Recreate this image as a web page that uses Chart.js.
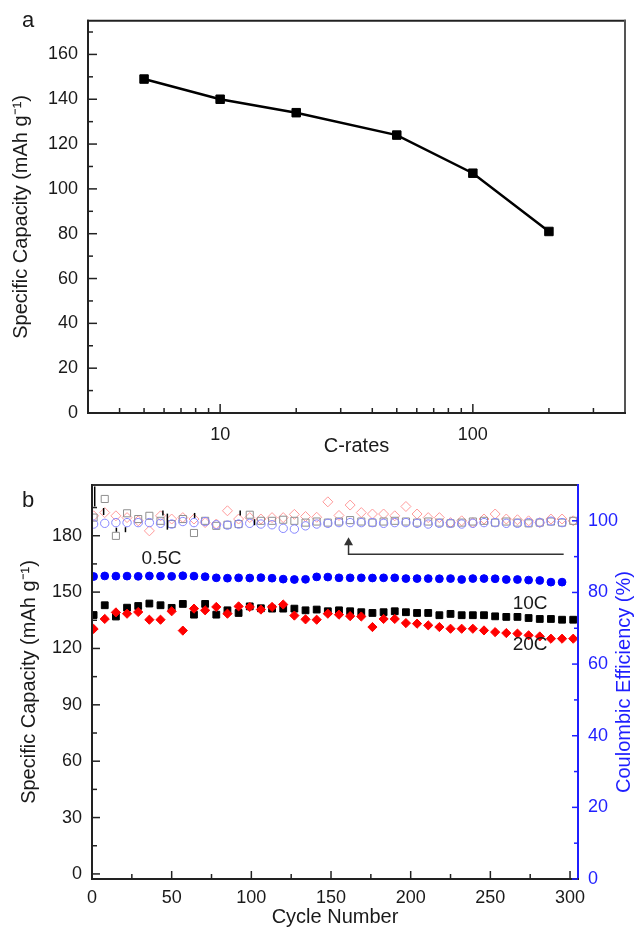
<!DOCTYPE html>
<html>
<head>
<meta charset="utf-8">
<script src="https://cdn.jsdelivr.net/npm/chart.js@4.4.1/dist/chart.umd.min.js"></script>
<style>
  html, body { margin: 0; padding: 0; background: #fff; }
  .panel { position: absolute; left: 0; width: 635px; }
  #panelA { top: 0; height: 460px; }
  #panelB { top: 460px; height: 467px; }
</style>
</head>
<body>
<div class="panel" id="panelA"><canvas id="rateChart"></canvas></div>
<div class="panel" id="panelB"><canvas id="cycleChart"></canvas></div>
<script>
// (a) rate capability
const cRates = [5, 10, 20, 50, 100, 200];
const rateCapacity = [149, 140, 134, 124, 107, 81];
const rateYTicks = [0, 20, 40, 60, 80, 100, 120, 140, 160];
const rateYMinor = [10, 30, 50, 70, 90, 110, 130, 150, 170];
const rateXTicks = [10, 100];
const rateXMinor = [4, 5, 6, 7, 8, 9, 20, 30, 40, 50, 60, 70, 80, 90, 200, 300];

// (b) cycling at 0.5C / 10C / 20C
const cycles = [1, 8, 15, 22, 29, 36, 43, 50, 57, 64, 71, 78, 85, 92, 99, 106, 113, 120, 127, 134, 141, 148,
  155, 162, 169, 176, 183, 190, 197, 204, 211, 218, 225, 232, 239, 246, 253, 260, 267, 274, 281, 288, 295, 302];
const cap05C = [158.3, 158.6, 158.5, 158.5, 158.4, 158.6, 158.5, 158.4, 158.7, 158.5, 158.2, 157.6, 157.4, 157.6,
  157.5, 157.7, 157.4, 156.9, 156.7, 156.8, 158.1, 158.0, 157.6, 157.6, 157.6, 157.5, 157.6, 157.6, 157.2, 157.2,
  157.2, 157.1, 157.2, 156.7, 157.2, 157.2, 157.1, 156.7, 156.7, 156.4, 156.2, 155.3, 155.3, null];
const cap10C = [137.8, 143, 137, 141.7, 142.6, 143.9, 143, 141.6, 143.7, 138, 143.7, 138, 140.3, 138.9, 142.4,
  141.4, 141.2, 141.2, 141.2, 140.3, 140.7, 139.8, 140.3, 139.8, 139.3, 138.9, 139.3, 139.8, 139.3, 138.9, 138.9,
  137.7, 138.4, 137.7, 137.7, 137.7, 137.1, 136.8, 136.8, 136.2, 135.7, 135.7, 135.3, 135.3];
const cap20C = [130.4, 135.7, 139.2, 138.5, 139.4, 135.3, 135.3, 139.8, 129.5, 141.2, 140.3, 142.1, 138.5, 142.4,
  142.1, 140.7, 142.1, 143.4, 137.5, 135.5, 135.3, 138.5, 138, 137.2, 137, 131.4, 135.7, 135.7, 133.5, 133.2,
  132.3, 131.4, 130.5, 130.5, 130.5, 129.6, 128.7, 128.2, 127.9, 127, 126.4, 125.2, 125.2, 125.2];
const ce05C = [99.1, 99.3, 99.5, 99.5, 99.5, 99.5, 99.3, 99.1, 99.8, 99.5, 99.8, 98.9, 98.8, 99.1, 99.3, 99.1,
  98.9, 97.9, 97.7, 98.6, 99.1, 99.3, 99.5, 99.5, 99.5, 99.5, 99.3, 99.5, 99.5, 99.3, 99.1, 99.3, 99.3, 99.1,
  99.3, 99.5, 99.5, 99.3, 99.3, 99.5, 99.5, 99.9, 99.5, null];
const ce10C = [100.9, 106.1, 95.8, 102.1, 100.5, 101.4, 100, 99.1, 100.5, 96.6, 100, 98.6, 98.9, 99.1, 101.7,
  100, 100, 100.3, 100, 99.5, 99.8, 99.5, 99.8, 100.2, 99.8, 99.5, 99.8, 100, 99.8, 99.5, 99.8, 99.5, 99.3,
  99.5, 99.8, 100, 99.5, 99.8, 99.5, 99.3, 99.5, 99.8, 99.5, 100];
const ce20C = [101.4, 102.3, 101.4, 100.9, 100, 97.2, 101.4, 100.5, 100.9, 100.5, 99.5, 99.1, 102.8, 100.5,
  100.9, 100.5, 100.9, 100.9, 101.8, 101.2, 101, 105.3, 101.5, 104.4, 102.3, 101.9, 101.9, 101.4, 104, 101.9,
  100.9, 100.9, 99.5, 100, 99.5, 100.5, 101.9, 100.5, 100.3, 100, 99.5, 100.5, 100.5, 100];
// stray black dashes near the top of panel b
const dashCycles = [1.7, 7.3, 15.3, 21, 44.5, 47.3, 64.4, 93, 102];
const dashValues = [200.9, 192.9, 183.2, 183.2, 192.1, 187.5, 190.8, 192.1, 187.2];

const cycleXTicks = [0, 50, 100, 150, 200, 250, 300];
const cycleXMinor = [25, 75, 125, 175, 225, 275];
const capYTicks = [0, 30, 60, 90, 120, 150, 180];
const capYMinor = [15, 45, 75, 105, 135, 165, 195];
const ceYTicks = [0, 20, 40, 60, 80, 100];
const ceYMinor = [10, 30, 50, 70, 90];

const rateNames = ['0.5C', '10C', '20C'];
const rateNameCycle = [31, 264, 264];
const rateNameCap = [167.7, 143.9, 122];
const arrowPath = [[296, 90.7], [161, 90.7], [161, 95.4]];

const FONT = "'Liberation Sans', Arial, sans-serif";
const INK = '#1a1a1a';
const BLUE = '#1f1fff';

const pts = (xs, ys) => xs.map((x, i) => ({ x, y: ys[i] }));
const setTicks = vals => s => { s.ticks = vals.map(v => ({ value: v })); };

// frame + inward tick marks
const frameTicks = {
  id: 'frameTicks',
  afterDraw(chart, args, opts) {
    const { ctx, chartArea: a } = chart;
    ctx.save();
    for (const side of ['top', 'right', 'bottom', 'left']) {
      const s = opts.frame[side];
      ctx.strokeStyle = s.color;
      ctx.lineWidth = s.width;
      ctx.beginPath();
      if (side === 'top') { ctx.moveTo(a.left - 1, a.top); ctx.lineTo(a.right + 1, a.top); }
      if (side === 'bottom') { ctx.moveTo(a.left - 1, a.bottom); ctx.lineTo(a.right + 1, a.bottom); }
      if (side === 'left') { ctx.moveTo(a.left, a.top - 1); ctx.lineTo(a.left, a.bottom + 1); }
      if (side === 'right') { ctx.moveTo(a.right, a.top - 1); ctx.lineTo(a.right, a.bottom + 1); }
      ctx.stroke();
    }
    for (const t of opts.ticks) {
      const scale = chart.scales[t.scale];
      ctx.strokeStyle = t.color;
      ctx.lineWidth = 1.5;
      const mark = (v, len) => {
        const p = scale.getPixelForValue(v);
        ctx.beginPath();
        if (t.side === 'left') { ctx.moveTo(a.left, p); ctx.lineTo(a.left + len, p); }
        else if (t.side === 'right') { ctx.moveTo(a.right, p); ctx.lineTo(a.right - len, p); }
        else { ctx.moveTo(p, a.bottom); ctx.lineTo(p, a.bottom - len); }
        ctx.stroke();
      };
      t.major.forEach(v => mark(v, t.majorLen));
      t.minor.forEach(v => mark(v, t.minorLen));
    }
    ctx.restore();
  }
};

// free text, panel letters and the arrow
const notes = {
  id: 'notes',
  afterDraw(chart, args, opts) {
    const { ctx, chartArea: a } = chart;
    ctx.save();
    (opts.texts || []).forEach(t => {
      ctx.font = t.font;
      ctx.fillStyle = t.color || INK;
      ctx.textAlign = t.align || 'left';
      ctx.textBaseline = t.baseline || 'middle';
      let x = t.px, y = t.py;
      if (t.xScale) {
        x = chart.scales[t.xScale].getPixelForValue(t.x);
        y = chart.scales[t.yScale].getPixelForValue(t.y);
      }
      if (y === 'center') y = (a.top + a.bottom) / 2;
      ctx.save();
      ctx.translate(x, y);
      if (t.rotate) ctx.rotate(t.rotate);
      ctx.fillText(t.text, 0, 0);
      ctx.restore();
    });
    const ar = opts.arrow;
    if (ar) {
      const xs = chart.scales[ar.xScale], ys = chart.scales[ar.yScale];
      const p = ar.path.map(([c, v]) => [xs.getPixelForValue(c), ys.getPixelForValue(v)]);
      const tip = p[p.length - 1];
      ctx.strokeStyle = ar.color;
      ctx.fillStyle = ar.color;
      ctx.lineWidth = 1.5;
      ctx.beginPath();
      p.forEach(([x, y], i) => {
        if (i === 0) ctx.moveTo(x, y);
        else if (i === p.length - 1) ctx.lineTo(x, y + 6);
        else ctx.lineTo(x, y);
      });
      ctx.stroke();
      ctx.beginPath();
      ctx.moveTo(tip[0], tip[1]);
      ctx.lineTo(tip[0] - 4.5, tip[1] + 8);
      ctx.lineTo(tip[0] + 4.5, tip[1] + 8);
      ctx.closePath();
      ctx.fill();
    }
    ctx.restore();
  }
};

const tickFont = { family: FONT, size: 18 };
const titleFont = { family: FONT, size: 20, lineHeight: 1 };

// ---- panel a ----
new Chart(document.getElementById('rateChart'), {
  type: 'scatter',
  data: {
    datasets: [{
      data: pts(cRates, rateCapacity),
      showLine: true,
      borderColor: '#000',
      borderWidth: 2.5,
      pointStyle: 'rect',
      pointRadius: 6,
      pointBackgroundColor: '#000',
      pointBorderColor: '#000',
      pointBorderWidth: 1
    }]
  },
  options: {
    responsive: true,
    maintainAspectRatio: false,
    animation: false,
    layout: { padding: { top: 15, right: 10, left: 0, bottom: 0 } },
    plugins: {
      legend: { display: false },
      tooltip: { enabled: false },
      frameTicks: {
        frame: {
          top: { color: '#222', width: 2 }, right: { color: '#555', width: 2 },
          bottom: { color: '#222', width: 2 }, left: { color: '#222', width: 2 }
        },
        ticks: [
          { scale: 'y', side: 'left', color: '#222', major: rateYTicks, minor: rateYMinor, majorLen: 9, minorLen: 5 },
          { scale: 'x', side: 'bottom', color: '#222', major: rateXTicks, minor: rateXMinor, majorLen: 9, minorLen: 5 }
        ]
      },
      notes: {
        texts: [{ text: 'a', px: 22, py: 27, baseline: 'alphabetic', font: `22px ${FONT}` }]
      }
    },
    scales: {
      x: {
        type: 'logarithmic',
        min: 3,
        max: 400,
        afterBuildTicks: setTicks(rateXTicks),
        afterFit: s => { s.height = 47; },
        grid: { display: false, drawTicks: false },
        border: { display: false },
        ticks: { color: INK, font: tickFont, padding: 11, autoSkip: false, maxRotation: 0, callback: v => String(v) },
        title: { display: true, text: 'C-rates', color: INK, font: titleFont, padding: { top: 0, bottom: 4 } }
      },
      y: {
        min: 0,
        max: 175,
        afterBuildTicks: setTicks(rateYTicks),
        afterFit: s => { s.width = 88; },
        grid: { display: false, drawTicks: false },
        border: { display: false },
        ticks: { color: INK, font: tickFont, padding: 10 },
        title: { display: true, text: 'Specific Capacity (mAh g⁻¹)', color: INK, font: titleFont, padding: { top: 11, bottom: 0 } }
      }
    }
  },
  plugins: [frameTicks, notes]
});

// ---- panel b ----
const nameTexts = rateNames.map((n, i) => ({
  text: n, xScale: 'x', yScale: 'y', x: rateNameCycle[i], y: rateNameCap[i], font: `19px ${FONT}`
}));

new Chart(document.getElementById('cycleChart'), {
  type: 'scatter',
  data: {
    datasets: [
      { label: 'dash', data: pts(dashCycles, dashValues), yAxisID: 'y', order: 0,
        pointStyle: 'line', rotation: 90, pointRadius: [10, 3.5, 2, 2.5, 2.5, 8, 2.5, 2.5, 3],
        pointBorderColor: '#000', pointBorderWidth: 1.5 },
      { label: 'CE 0.5C', data: pts(cycles, ce05C), yAxisID: 'y2', order: 1,
        pointStyle: 'circle', pointRadius: 4.2, pointBackgroundColor: 'rgba(0,0,0,0)',
        pointBorderColor: '#8585ff', pointBorderWidth: 1 },
      { label: 'CE 10C', data: pts(cycles, ce10C), yAxisID: 'y2', order: 2,
        pointStyle: 'rect', pointRadius: 5, pointBackgroundColor: 'rgba(0,0,0,0)',
        pointBorderColor: '#8f8f8f', pointBorderWidth: 1 },
      { label: 'CE 20C', data: pts(cycles, ce20C), yAxisID: 'y2', order: 3,
        pointStyle: 'rectRot', pointRadius: 5, pointBackgroundColor: 'rgba(0,0,0,0)',
        pointBorderColor: '#ff9a9a', pointBorderWidth: 1 },
      { label: '0.5C', data: pts(cycles, cap05C), yAxisID: 'y', order: 4,
        pointStyle: 'circle', pointRadius: 3.9, pointBackgroundColor: '#0000ff',
        pointBorderColor: '#0000ff', pointBorderWidth: 1 },
      { label: '20C', data: pts(cycles, cap20C), yAxisID: 'y', order: 5,
        pointStyle: 'rectRot', pointRadius: 4.6, pointBackgroundColor: '#ff0000',
        pointBorderColor: '#ff0000', pointBorderWidth: 1 },
      { label: '10C', data: pts(cycles, cap10C), yAxisID: 'y', order: 6,
        pointStyle: 'rect', pointRadius: 4.8, pointBackgroundColor: '#000',
        pointBorderColor: '#000', pointBorderWidth: 1 }
    ]
  },
  options: {
    responsive: true,
    maintainAspectRatio: false,
    animation: false,
    layout: { padding: { top: 25, right: 0, left: 0, bottom: 0 } },
    plugins: {
      legend: { display: false },
      tooltip: { enabled: false },
      frameTicks: {
        frame: {
          top: { color: '#333', width: 2 }, right: { color: BLUE, width: 2 },
          bottom: { color: '#222', width: 2 }, left: { color: '#222', width: 2 }
        },
        ticks: [
          { scale: 'y', side: 'left', color: '#222', major: capYTicks, minor: capYMinor, majorLen: 8, minorLen: 5 },
          { scale: 'x', side: 'bottom', color: '#222', major: cycleXTicks, minor: cycleXMinor, majorLen: 8, minorLen: 5 },
          { scale: 'y2', side: 'right', color: BLUE, major: ceYTicks, minor: ceYMinor, majorLen: 6, minorLen: 4 }
        ]
      },
      notes: {
        texts: [
          { text: 'b', px: 22, py: 46.7, baseline: 'alphabetic', font: `22px ${FONT}` },
          { text: 'Coulombic Efficiency (%)', px: 624.5, py: 'center', rotate: -Math.PI / 2,
            align: 'center', color: BLUE, font: `20px ${FONT}` },
          ...nameTexts
        ],
        arrow: { path: arrowPath, xScale: 'x', yScale: 'y2', color: '#333' }
      }
    },
    scales: {
      x: {
        type: 'linear',
        min: 0,
        max: 305,
        afterBuildTicks: setTicks(cycleXTicks),
        afterFit: s => { s.height = 48; },
        grid: { display: false, drawTicks: false },
        border: { display: false },
        ticks: { color: INK, font: tickFont, padding: 8, autoSkip: false, maxRotation: 0 },
        title: { display: true, text: 'Cycle Number', color: INK, font: titleFont, padding: { top: 0, bottom: 0 } }
      },
      y: {
        position: 'left',
        min: -2.7,
        max: 207,
        afterBuildTicks: setTicks(capYTicks),
        afterFit: s => { s.width = 92; },
        grid: { display: false, drawTicks: false },
        border: { display: false },
        ticks: { color: INK, font: tickFont, padding: 10 },
        title: { display: true, text: 'Specific Capacity (mAh g⁻¹)', color: INK, font: titleFont, padding: { top: 19, bottom: 0 } }
      },
      y2: {
        position: 'right',
        min: 0,
        max: 110,
        afterBuildTicks: setTicks(ceYTicks),
        afterFit: s => { s.width = 57; },
        grid: { display: false, drawTicks: false },
        border: { display: false },
        ticks: { color: BLUE, font: tickFont, padding: 10 }
      }
    }
  },
  plugins: [frameTicks, notes]
});
</script>
</body>
</html>
